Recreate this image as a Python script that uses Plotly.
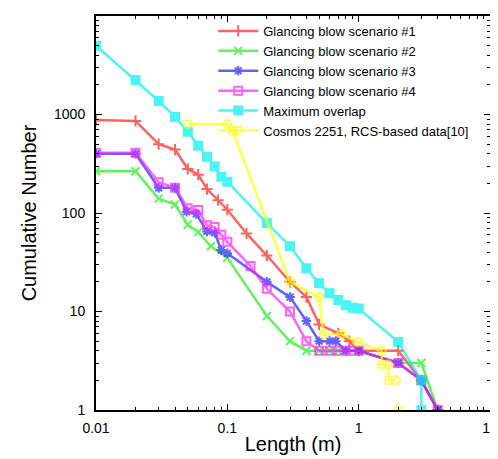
import plotly.graph_objects as go

# ---- data ----
x1 = [0.01, 0.02, 0.03, 0.04, 0.05, 0.06, 0.07, 0.085, 0.1, 0.14, 0.2, 0.3, 0.4, 0.5, 0.7, 0.85, 1.0, 2.0, 3.0, 4.0]
y1 = [880, 860, 500, 440, 280, 245, 175, 135, 108, 62, 37, 20, 14, 7.4, 6, 5, 4, 4, 2, 1]

x2 = [0.01, 0.02, 0.03, 0.04, 0.05, 0.06, 0.075, 0.1, 0.2, 0.3, 0.4, 0.5, 0.6, 0.7, 1.0, 2.0, 3.0, 4.0]
y2 = [265, 265, 140, 122, 76, 64, 46, 35, 9, 5, 4, 4, 4, 4, 4, 3, 3, 1]

x3 = [0.01, 0.02, 0.03, 0.04, 0.049, 0.058, 0.07, 0.08, 0.09, 0.1, 0.2, 0.3, 0.4, 0.5, 0.6, 0.67, 0.8, 1.0, 2.0, 3.0, 4.0]
y3 = [400, 400, 180, 180, 103, 98, 65, 63, 42, 39, 20, 14, 8, 5, 5, 5, 4, 4, 3, 2, 1]

x4 = [0.01, 0.02, 0.03, 0.04, 0.05, 0.06, 0.07, 0.08, 0.09, 0.1, 0.15, 0.2, 0.3, 0.4, 0.5, 0.6, 0.7, 0.8, 0.9, 1.0, 2.0, 3.0, 4.0]
y4 = [410, 410, 205, 180, 112, 107, 75, 72, 60, 51, 29, 17, 10, 5, 4, 4, 4, 4, 4, 4, 3, 2, 1]

x5 = [0.01, 0.02, 0.03, 0.04, 0.05, 0.06, 0.07, 0.08, 0.09, 0.1, 0.2, 0.3, 0.4, 0.5, 0.6, 0.7, 0.8, 0.9, 1.0, 2.0, 3.0, 3.0]
y5 = [5000, 2240, 1370, 944, 670, 482, 372, 296, 234, 208, 79, 46, 27.5, 19.3, 15.3, 13.1, 11.6, 10.9, 10.7, 4.9, 2, 1]

x6 = [0.05, 0.1, 0.11, 0.3, 0.5, 0.54, 0.74, 0.98, 1.5, 1.5, 1.67, 1.7, 1.93, None, 2.0]
y6 = [800, 800, 680, 20, 14, 5.8, 5.9, 4.9, 4, 2.9, 2.9, 2, 2, None, 1]

names = [
    "Glancing blow scenario #1",
    "Glancing blow scenario #2",
    "Glancing blow scenario #3",
    "Glancing blow scenario #4",
    "Maximum overlap",
    "Cosmos 2251, RCS-based data[10]",
]

x_tickvals = [0.01, 0.1, 1, 10]
x_ticktext = ["0.01", "0.1", "1", "10"]
y_tickvals = [1, 10, 100, 1000, 10000]
y_ticktext = ["1", "10", "100", "1000", "10000"]

# ---- styling ----
colors = ["#ff2020", "#20ee20", "#2020ff", "#ff20ff", "#00f0f0", "#ffff00"]
symbols = ["cross-thin-open", "x-thin-open", "asterisk-open", "square-open", "square", "circle-open"]
series = [(x1, y1), (x2, y2), (x3, y3), (x4, y4), (x5, y5), (x6, y6)]

fig = go.Figure()
for (xs, ys), name, c, s in zip(series, names, colors, symbols):
    fig.add_trace(go.Scatter(
        x=xs, y=ys, name=name, mode="lines+markers",
        line=dict(color=c, width=2.5),
        marker=dict(symbol=s, size=8, color=c, line=dict(color=c, width=2)),
        opacity=0.7, connectgaps=False,
    ))

minor_x = [m * 10 ** e for e in (-2, -1, 0) for m in range(2, 10)]
minor_y = [m * 10 ** e for e in (0, 1, 2, 3) for m in range(2, 10)]

axis_common = dict(
    type="log", showline=True, linecolor="black", linewidth=2, mirror="allticks",
    ticks="inside", ticklen=6, tickwidth=1, tickcolor="black",
    showgrid=False, zeroline=False, automargin=False,
    tickfont=dict(size=14, color="black"),
)

fig.update_xaxes(
    **axis_common, range=[-2, 1], tickmode="array", tickvals=x_tickvals, ticktext=x_ticktext,
    ticklabelstandoff=4,
    minor=dict(tickmode="array", tickvals=minor_x, ticks="inside", ticklen=3, tickcolor="black", showgrid=False),
    title=dict(text="Length (m)", font=dict(size=20), standoff=2),
)
fig.update_yaxes(
    **axis_common, range=[0, 4], tickmode="array", tickvals=y_tickvals, ticktext=y_ticktext,
    ticklabelstandoff=6,
    minor=dict(tickmode="array", tickvals=minor_y, ticks="inside", ticklen=3, tickcolor="black", showgrid=False),
    title=dict(text="Cumulative Number", font=dict(size=20), standoff=12),
)

# the page body has an 8px default margin, so the figure is offset by (8, 8)
fig.update_layout(
    width=490, height=451,
    margin=dict(l=88, r=8, t=8, b=49),
    plot_bgcolor="white", paper_bgcolor="white",
    font=dict(family="Liberation Sans, Arial, sans-serif", size=14, color="black"),
    legend=dict(x=0.96, y=1.0, xanchor="right", yanchor="top", bgcolor="rgba(0,0,0,0)",
                font=dict(size=13), tracegroupgap=0, itemwidth=40),
)

fig.write_html("out.html")
